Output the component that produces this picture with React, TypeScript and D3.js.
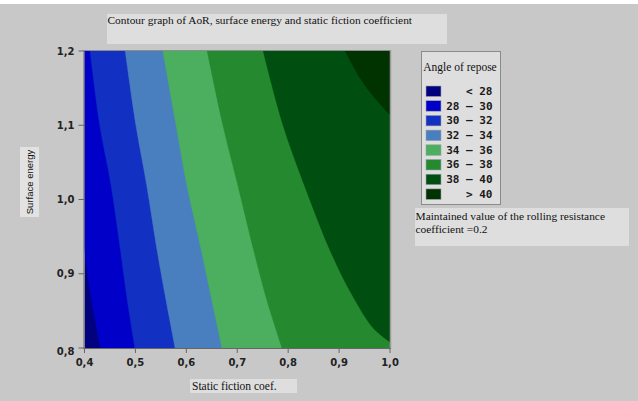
import React from "react";
import * as d3 from "d3";

// ---------- data ----------
const levels = [28, 30, 32, 34, 36, 38, 40];
const bandLabels = ["< 28", "28 – 30", "30 – 32", "32 – 34", "34 – 36", "36 – 38", "38 – 40", "> 40"];
const bandColors = ["#02027e", "#0000c8", "#1230c2", "#4a7fbf", "#4caf5f", "#258a2f", "#004f10", "#003300"];

// contour lines [static friction coef, surface energy]
const contour28 = [[0.4, 0.936], [0.405, 0.905], [0.414, 0.865], [0.431, 0.8]];
const contour30 = [[0.411, 1.2], [0.430, 1.1], [0.452, 1.02], [0.471, 0.93], [0.484, 0.865], [0.499, 0.8]];
const contour32 = [[0.480, 1.2], [0.501, 1.1], [0.522, 1.02], [0.543, 0.93], [0.560, 0.865], [0.578, 0.8]];
const contour34 = [[0.554, 1.2], [0.580, 1.1], [0.601, 1.02], [0.630, 0.93], [0.650, 0.865], [0.670, 0.8]];
const contour36 = [[0.641, 1.2], [0.672, 1.1], [0.701, 1.02], [0.733, 0.93], [0.758, 0.865], [0.788, 0.8]];
const contour38 = [[0.751, 1.2], [0.790, 1.1], [0.832, 1.019], [0.884, 0.929], [0.926, 0.871], [0.967, 0.827], [1.0, 0.808]];
const contour40 = [[0.912, 1.2], [0.941, 1.164], [0.965, 1.141], [1.0, 1.114]];
const contours = [contour28, contour30, contour32, contour34, contour36, contour38, contour40];

const xTicks = [0.4, 0.5, 0.6, 0.7, 0.8, 0.9, 1.0];
const yTicks = [0.8, 0.9, 1.0, 1.1, 1.2];

const titleText = "Contour graph of AoR, surface energy and static fiction coefficient";
const xLabel = "Static fiction coef.";
const yLabel = "Surface energy";
const legendTitle = "Angle of repose";
const noteLines = ["Maintained value of the rolling resistance", "coefficient =0.2"];

// ---------- layout ----------
const W = 638, H = 401;
const PL = 84.5, PR = 390, PT = 51, PB = 348;
const X0 = 0.4, X1 = 1.0, Y0 = 0.8, Y1 = 1.2;

const fmt = d3.formatLocale({ decimal: ",", thousands: ".", grouping: [3], currency: ["", ""] }).format(".1f");

function perimT(p: number[]): number {
  const [x, y] = p;
  const e = 1e-6;
  if (Math.abs(y - Y1) < e) return (x - X0) / (X1 - X0);
  if (Math.abs(x - X1) < e) return 1 + (Y1 - y) / (Y1 - Y0);
  if (Math.abs(y - Y0) < e) return 2 + (X1 - x) / (X1 - X0);
  return 3 + (y - Y0) / (Y1 - Y0);
}
const corners = [[X0, Y1], [X1, Y1], [X1, Y0], [X0, Y0]]; // t=0,1,2,3

function closingCorners(line: number[][]): number[][] {
  const ts = perimT(line[0]);
  const te = perimT(line[line.length - 1]);
  const mod = (v: number) => ((v % 4) + 4) % 4;
  const cw: number[] = [];
  for (let k = 0; k < 4; k++) {
    const c = mod(Math.ceil(te + 1e-9) + k);
    if (mod(c - te) < mod(ts - te)) cw.push(c);
  }
  if (cw.includes(1) && !cw.includes(3)) return cw.map((c) => corners[c]);
  const ccw: number[] = [];
  for (let k = 0; k < 4; k++) {
    const c = mod(Math.floor(te - 1e-9) - k);
    if (mod(te - c) < mod(te - ts)) ccw.push(c);
  }
  return ccw.map((c) => corners[c]);
}

export default function App() {
  const x = d3.scaleLinear().domain([X0, X1]).range([PL, PR]);
  const y = d3.scaleLinear().domain([Y0, Y1]).range([PB, PT]);
  const line = d3
    .line<number[]>()
    .x((d) => x(d[0]))
    .y((d) => y(d[1]))
    .curve(d3.curveCatmullRom.alpha(0.5));

  const regionPath = (c: number[][]) => {
    const base = line(c) as string;
    const tail = closingCorners(c)
      .map((p) => `L${x(p[0])},${y(p[1])}`)
      .join("");
    return base + tail + "Z";
  };

  const serif = "'Liberation Serif', 'DejaVu Serif', serif";
  const sansB = "'DejaVu Sans', Verdana, sans-serif";
  const mono = "'DejaVu Sans Mono', monospace";

  const legX = 421, legY = 51;
  const rowY = (i: number) => 91 + i * 14.7;

  return (
    <svg width={W} height={H} style={{ position: "absolute", left: 0, top: 0, display: "block" }}>
      <rect x={0} y={0} width={W} height={H} fill="#ffffff" />
      <rect x={0} y={4} width={W} height={H - 4} fill="#c8c8c8" />

      {/* title */}
      <rect x={107} y={14} width={340} height={30} fill="#dedede" />
      <text x={107.5} y={24} fontFamily={serif} fontSize={11.4} fill="#111">{titleText}</text>

      {/* plot */}
      <defs>
        <clipPath id="plotclip">
          <rect x={PL} y={PT} width={PR - PL} height={PB - PT} />
        </clipPath>
      </defs>
      <g clipPath="url(#plotclip)">
        <rect x={PL} y={PT} width={PR - PL} height={PB - PT} fill={bandColors[0]} />
        {contours.map((c, i) => (
          <path key={levels[i]} d={regionPath(c)} fill={bandColors[i + 1]} stroke={bandColors[i + 1]} strokeWidth={0.5} />
        ))}
      </g>
      {/* frame */}
      <line x1={PL} x2={PR + 1} y1={PT - 0.5} y2={PT - 0.5} stroke="#8c8c8c" strokeWidth={1.2} />
      <line x1={PR + 0.5} x2={PR + 0.5} y1={PT - 1} y2={PB} stroke="#9a9a9a" strokeWidth={1.5} />
      <line x1={PL - 0.5} x2={PL - 0.5} y1={PT - 1} y2={PB + 0.5} stroke="#666" strokeWidth={1} />
      <line x1={PL - 1} x2={PR + 1} y1={PB + 0.5} y2={PB + 0.5} stroke="#666" strokeWidth={1} />

      {/* y axis */}
      {yTicks.map((t) => (
        <g key={"y" + t}>
          <line x1={PL - 6} x2={PL - 0.5} y1={y(t)} y2={y(t)} stroke="#666" />
          <text x={PL - 10} y={y(t) + (t === Y0 ? 3 : 0)} dy="0.35em" textAnchor="end" fontFamily={sansB} fontWeight="bold" fontSize={10} fill="#222">
            {fmt(t)}
          </text>
        </g>
      ))}
      {/* x axis */}
      {xTicks.map((t) => (
        <g key={"x" + t}>
          <line x1={x(t)} x2={x(t)} y1={PB + 0.5} y2={PB + 5} stroke="#666" />
          <text x={x(t)} y={362} dy="0.35em" textAnchor="middle" fontFamily={sansB} fontWeight="bold" fontSize={10} fill="#222">
            {fmt(t)}
          </text>
        </g>
      ))}

      {/* axis labels */}
      <rect x={190} y={379} width={107} height={14} fill="#dedede" />
      <text x={192} y={390} fontFamily={serif} fontSize={11.5} fill="#111">{xLabel}</text>
      <rect x={20} y={147} width={19} height={70} fill="#e2e2e2" />
      <text transform="translate(32.5,182) rotate(-90)" textAnchor="middle" fontFamily="'Liberation Sans', Arial, sans-serif" fontSize={9.5} fill="#111">
        {yLabel}
      </text>

      {/* legend */}
      <rect x={legX + 0.5} y={legY + 0.5} width={79} height={153} fill="#dedede" stroke="#8a8a8a" strokeWidth={1} />
      <text x={460} y={71} textAnchor="middle" fontFamily={serif} fontSize={11.5} fill="#111">{legendTitle}</text>
      {bandLabels.map((lab, i) => (
        <g key={lab}>
          <rect x={426} y={rowY(i) - 5} width={15} height={10.5} fill={bandColors[i]} stroke="#9aa0a8" strokeWidth={0.6} />
          <text x={492.5} y={rowY(i)} dy="0.36em" textAnchor="end" fontFamily={mono} fontWeight="bold" fontSize={11} fill="#1a1a1a" style={{ whiteSpace: "pre" }}>
            {lab}
          </text>
        </g>
      ))}

      {/* note */}
      <rect x={415} y={208} width={214} height={38} fill="#dedede" />
      {noteLines.map((l, i) => (
        <text key={i} x={415.5} y={220 + i * 13} fontFamily={serif} fontSize={11.4} fill="#111">{l}</text>
      ))}
    </svg>
  );
}
